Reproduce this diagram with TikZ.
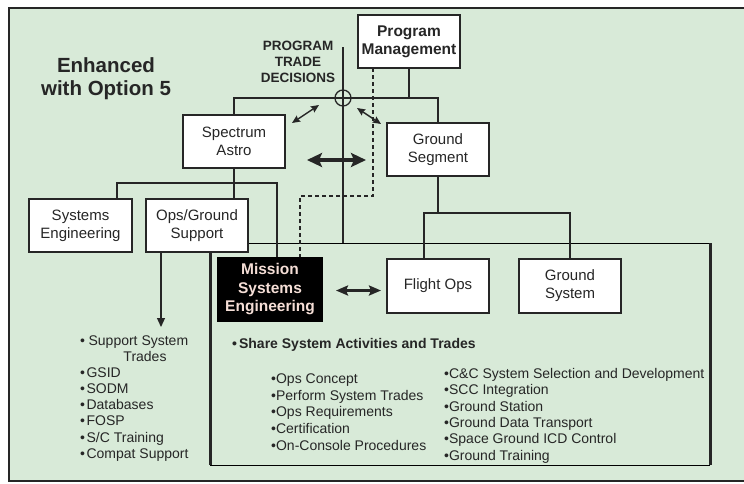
\documentclass[tikz,border=0pt]{standalone}
\usepackage{fontspec}
\setmainfont{Liberation Sans}
\usetikzlibrary{arrows.meta}
\definecolor{bg}{RGB}{216,234,216}
\definecolor{ink}{RGB}{38,38,38}
\definecolor{msetext}{RGB}{245,222,214}
\definecolor{thin}{RGB}{110,110,110}
\begin{document}
\begin{tikzpicture}[x=1pt,y=-1pt,
  box/.style={draw=ink, line width=1.3pt, fill=white, inner sep=0pt, align=center, text=ink,
    minimum width=102pt, minimum height=53pt, font=\fontsize{15}{18}\selectfont},
  conn/.style={draw=ink, line width=1.4pt},
  li/.style={anchor=base west, inner sep=0pt, text=ink, font=\fontsize{14}{16}\selectfont},
  smallarr/.style={draw=ink, line width=1.4pt, {Stealth[length=8pt,width=7pt,inset=1pt]}-{Stealth[length=8pt,width=7pt,inset=1pt]}},
  bigarr/.style={draw=ink, line width=4pt, {Stealth[length=15pt,width=14pt,inset=3pt]}-{Stealth[length=15pt,width=14pt,inset=3pt]}},
  midarr/.style={draw=ink, line width=3pt, {Stealth[length=12pt,width=10pt,inset=2pt]}-{Stealth[length=12pt,width=10pt,inset=2pt]}},
  ]
\useasboundingbox (0,0) rectangle (744,483);
% background and outer frame
\fill[bg] (9,8) rectangle (744,481);
\draw[ink, line width=1.5pt] (744,8) -- (9,8) -- (9,481) -- (744,481);

% inner frame
\coordinate (f1) at (210,243);
\coordinate (f2) at (710,243);
\coordinate (f3) at (710,465);
\coordinate (f4) at (210,465);
\draw[thin, line width=0.8pt] (f1) -- (f2);
\draw[thin, line width=0.8pt] (f4) -- (f3);
\draw[ink, line width=3pt] (f1) -- (f4);
\draw[ink, line width=3pt] (f2) -- (f3);

% title
\node[text=ink, align=center, font=\bfseries\fontsize{20.5}{23}\selectfont] (title) at (106,78.5) {Enhanced\\with Option 5};
\node[text=ink, align=center, font=\bfseries\fontsize{13.5}{16}\selectfont] (ptd) at (298,61.5) {PROGRAM\\TRADE\\DECISIONS};

% trade decisions line
\coordinate (t1) at (343,47);
\coordinate (t2) at (343,243);
\draw[ink, line width=2.3pt] (t1) -- (t2);

% bus coordinates
\coordinate (b1) at (234,98);
\coordinate (b2) at (438,98);
\coordinate (s1) at (117,183);
\coordinate (s2) at (277,183);
\coordinate (g1) at (424,213);
\coordinate (g2) at (570,213);
\coordinate (d0) at (373,68);
\coordinate (d1) at (373,196);
\coordinate (d2) at (300,196);

% nodes
\node[box, font=\bfseries\fontsize{15.5}{18}\selectfont] (PM) at (409,41.5) {Program\\Management};
\node[box] (SA) at (234,141.5) {Spectrum\\Astro};
\node[box] (GS) at (438,149.5) {Ground\\Segment};
\node[box, minimum width=103pt] (SE) at (80.5,225.5) {Systems\\Engineering};
\node[box] (OGS) at (197,225.5) {Ops/Ground\\Support};
\node[box, fill=black, draw=black, text=msetext, minimum width=104pt, minimum height=63pt,
      font=\bfseries\fontsize{15.5}{18.5}\selectfont] (MSE) at (270,289.5) {Mission\\Systems\\Engineering};
\node[box, minimum height=54pt] (FO) at (438,286) {Flight Ops};
\node[box, minimum height=54pt] (GSy) at (570,286) {Ground\\System};

% connectors
\draw[conn] (PM.south) -- (PM.south |- b1);
\draw[conn] (SA.north) -- (b1) -- (b2) -- (GS.north);
\node[draw=ink, circle, line width=1.3pt, minimum size=16pt, inner sep=0pt] (tc) at (343,98) {};
\draw[ink, line width=1.3pt, dashed, dash pattern=on 4pt off 3pt] (d0) -- (d1) -- (d2) -- (d2 |- MSE.north);
\draw[conn] (SA.south) -- (SA.south |- OGS.north);
\draw[conn] (s1 |- SE.north) -- (s1) -- (s2) -- (s2 |- MSE.north);
\draw[conn] (GS.south) -- (GS.south |- g1);
\draw[conn] (g1 |- FO.north) -- (g1) -- (g2) -- (g2 |- GSy.north);
\coordinate (oa) at (161,327);
\draw[ink, line width=1.2pt, -{Triangle[length=9pt,width=8pt]}] (oa |- OGS.south) -- (oa);

% arrows
\coordinate (a1) at (292,123);
\coordinate (a2) at (319,105);
\coordinate (a3) at (357,108);
\coordinate (a4) at (381,124);
\draw[smallarr] (a1) -- (a2);
\draw[smallarr] (a3) -- (a4);
\coordinate (h1) at (307,160);
\coordinate (h2) at (366,160);
\draw[bigarr] (h1) -- (h2);
\coordinate (m1) at (336,290.5);
\coordinate (m2) at (381,290.5);
\draw[midarr] (m1) -- (m2);

% left list
\node[li] (l1) at (80,345) {•\hspace{3.5pt}Support System};
\node[li, anchor=base] (l1b) at (145,361) {Trades};
\node[li] (l2) at (80,377.5) {•\hspace{1.5pt}GSID};
\node[li] (l3) at (80,393.5) {•\hspace{1.5pt}SODM};
\node[li] (l4) at (80,409.5) {•\hspace{1.5pt}Databases};
\node[li] (l5) at (80,425.5) {•\hspace{1.5pt}FOSP};
\node[li] (l6) at (80,442) {•\hspace{1.5pt}S/C Training};
\node[li] (l7) at (80,458) {•\hspace{1.5pt}Compat Support};

% share heading
\node[li, font=\bfseries\fontsize{14}{16}\selectfont] (sh) at (232,348.3) {•\hspace{2pt}Share System Activities and Trades};

% middle list
\node[li] (c1) at (271,383.3) {•Ops Concept};
\node[li] (c2) at (271,400) {•Perform System Trades};
\node[li] (c3) at (271,416.7) {•Ops Requirements};
\node[li] (c4) at (271,433.3) {•Certification};
\node[li] (c5) at (271,450) {•On-Console Procedures};

% right list
\node[li] (r1) at (444,378.3) {•C\&C System Selection and Development};
\node[li] (r2) at (444,394.6) {•SCC Integration};
\node[li] (r3) at (444,411) {•Ground Station};
\node[li] (r4) at (444,427.3) {•Ground Data Transport};
\node[li] (r5) at (444,443.6) {•Space Ground ICD Control};
\node[li] (r6) at (444,460) {•Ground Training};
\end{tikzpicture}
\end{document}
